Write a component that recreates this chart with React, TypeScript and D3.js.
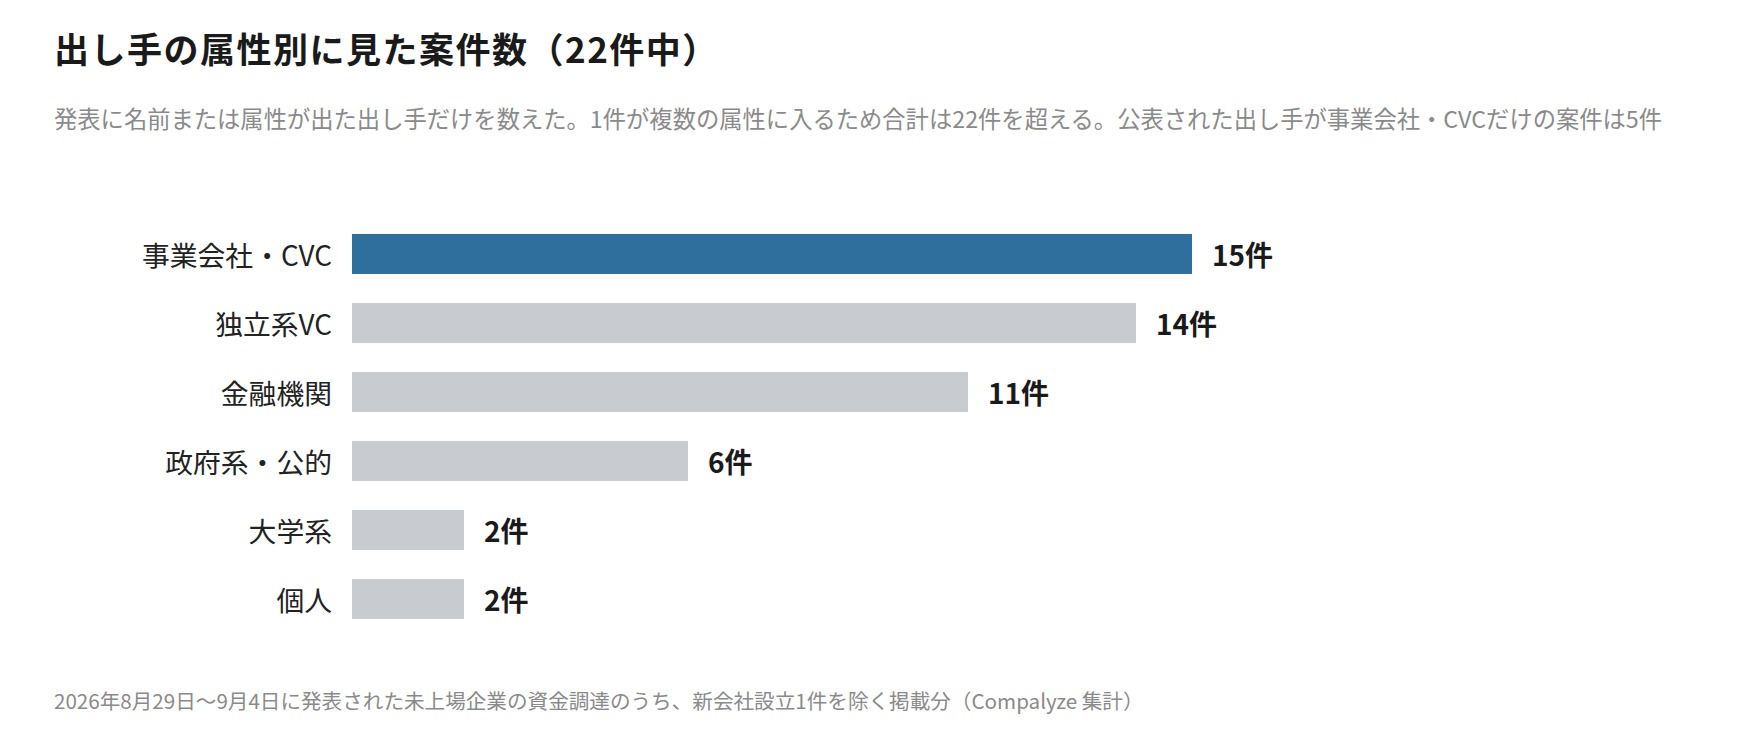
import * as d3 from 'd3';

const categories = ['事業会社・CVC', '独立系VC', '金融機関', '政府系・公的', '大学系', '個人'];
const counts = [15, 14, 11, 6, 2, 2];
const highlighted = '事業会社・CVC';

const title = '出し手の属性別に見た案件数（22件中）';
const subtitle =
  '発表に名前または属性が出た出し手だけを数えた。1件が複数の属性に入るため合計は22件を超える。公表された出し手が事業会社・CVCだけの案件は5件';
const footnote =
  '2026年8月29日〜9月4日に発表された未上場企業の資金調達のうち、新会社設立1件を除く掲載分（Compalyze 集計）';

const width = 1760;
const height = 736;
const font = "'Noto Sans CJK JP', 'Noto Sans', sans-serif";

export default function App() {
  const x = d3.scaleLinear().domain([0, 15]).range([352, 1192]);
  const y = d3
    .scaleBand<string>()
    .domain(categories)
    .range([234, 619])
    .paddingInner(0.42)
    .paddingOuter(0);

  return (
    <svg
      width={width}
      height={height}
      viewBox={`0 0 ${width} ${height}`}
      style={{ position: 'absolute', left: 0, top: 0, background: '#fff', fontFamily: font }}
    >
      <text x={54} y={63} fontSize={35} fontWeight={700} letterSpacing={1.5} fill="#1a1a1a">
        {title}
      </text>
      <text x={54} y={128} fontSize={23.3} fill="#8a8a8a">
        {subtitle}
      </text>

      {categories.map((cat, i) => {
        const top = y(cat) ?? 0;
        const mid = top + y.bandwidth() / 2;
        return (
          <g key={cat}>
            <rect
              x={x(0)}
              y={top}
              width={x(counts[i]) - x(0)}
              height={y.bandwidth()}
              fill={cat === highlighted ? '#2e6f9e' : '#c8cbd0'}
            />
            <text
              x={x(0) - 20}
              y={mid}
              textAnchor="end"
              dominantBaseline="central"
              fontSize={27.8}
              fill="#222"
            >
              {cat}
            </text>
            <text
              x={x(counts[i]) + 20}
              y={mid}
              dominantBaseline="central"
              fontSize={28}
              fontWeight={700}
              fill="#1a1a1a"
            >
              {`${counts[i]}件`}
            </text>
          </g>
        );
      })}

      <text x={54} y={709} fontSize={20.6} fill="#8a8a8a">
        {footnote}
      </text>
    </svg>
  );
}
